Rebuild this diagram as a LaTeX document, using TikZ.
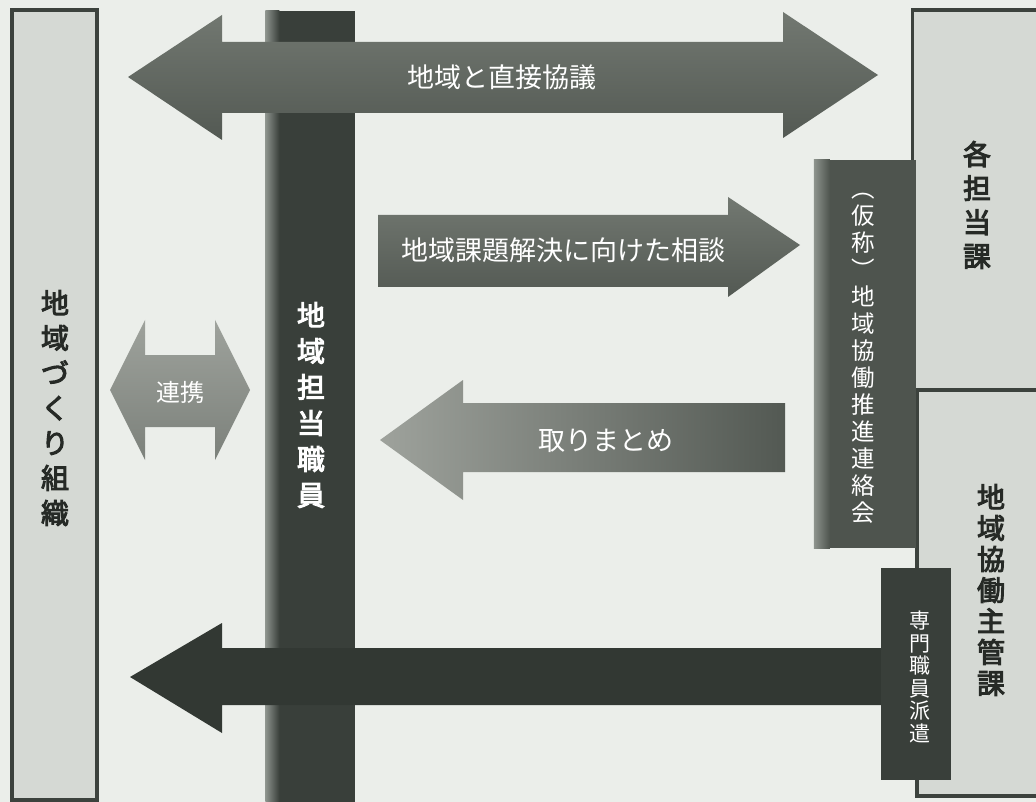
\documentclass[tikz,border=0pt]{standalone}
\usepackage{fontspec}
\newfontfamily\jp{Noto Sans CJK JP}
\newfontfamily\jpb{Noto Sans CJK JP}[FakeBold=3.5]
\definecolor{bg}{HTML}{EBEEEA}
\definecolor{edge}{HTML}{3C423D}
\definecolor{boxfill}{HTML}{D5D9D4}
\definecolor{bar}{HTML}{393F3A}
\definecolor{barlight}{HTML}{8E948E}
\definecolor{darkarrow}{HTML}{323833}
\definecolor{midtop}{HTML}{727871}
\definecolor{midbot}{HTML}{535953}
\definecolor{lighttop}{HTML}{9EA29C}
\definecolor{lightbot}{HTML}{7C817B}
\definecolor{council}{HTML}{4E544E}
\definecolor{ink}{HTML}{262A26}
\begin{document}
\begin{tikzpicture}[x=1pt,y=-1pt,
  boxstyle/.style={draw=edge, line width=3.5pt, fill=boxfill, inner sep=0pt},
  barstyle/.style={fill=bar, inner sep=0pt},
  blabel/.style={align=center, inner sep=0pt, text=ink},
  wlabel/.style={align=center, inner sep=0pt, text=white},
  arrowmid/.style={top color=midtop, bottom color=midbot},
  arrowlight/.style={top color=lighttop, bottom color=lightbot},
  arrowdark/.style={fill=darkarrow}]
\clip (0,0) rectangle (1036,802);
\fill[bg] (0,0) rectangle (1036,802);

% left box
\node[boxstyle, minimum width=85pt, minimum height=790pt] (org) at (54.5,405) {};
\node[blabel, font=\jpb\fontsize{28}{35}\selectfont] (orgl) at (55,408) {地\\域\\づ\\く\\り\\組\\織};

% right boxes
\node[boxstyle, minimum width=135pt, minimum height=380pt] (dept) at (980,200) {};
\node[blabel, font=\jpb\fontsize{28}{34}\selectfont] (deptl) at (977,205) {各\\担\\当\\課};
\node[boxstyle, minimum width=130pt, minimum height=406pt] (main) at (982,593) {};
\node[blabel, font=\jpb\fontsize{28}{31}\selectfont] (mainl) at (991,590) {地\\域\\協\\働\\主\\管\\課};

% central bar
\node[barstyle, minimum width=89pt, minimum height=792pt] (staff) at (310,407) {};
\shade[left color=barlight, right color=bar] (staff.north west) rectangle ([xshift=14pt]staff.south west);
\node[wlabel, font=\jpb\fontsize{28}{36}\selectfont] (staffl) at (311,405) {地\\域\\担\\当\\職\\員};

% council box
\node[fill=council, minimum width=102pt, minimum height=388pt, inner sep=0pt] (council) at (865,354) {};
\shade[left color=barlight, right color=council] (council.north west) rectangle ([xshift=16pt]council.south west);
\node[wlabel, font=\jp\fontsize{23.5}{27}\selectfont] (councill) at (863,358) {︵\\仮\\称\\︶\\地\\域\\協\\働\\推\\進\\連\\絡\\会};

% dispatch box
\node[barstyle, minimum width=70pt, minimum height=212pt] (dispatch) at (916,674) {};
\node[wlabel, font=\jp\fontsize{21}{22.6}\selectfont] (dispatchl) at (920,677) {専\\門\\職\\員\\派\\遣};

% top double arrow
\shade[arrowmid] (128,77) -- (222,15) -- (222,42) -- (783,42) -- (783,12) -- (878,75)
  -- (783,138) -- (783,113) -- (222,113) -- (222,140) -- cycle;
\node[wlabel, font=\jp\fontsize{27}{30}\selectfont] (direct) at (502,77) {地域と直接協議};

% consultation arrow
\shade[arrowmid] (378,215) -- (728,215) -- (728,197) -- (800,245) -- (728,297) -- (728,287) -- (378,287) -- cycle;
\node[wlabel, font=\jp\fontsize{27}{30}\selectfont] (consult) at (563,250) {地域課題解決に向けた相談};

% summary arrow
\shade[left color=lighttop, right color=midbot] (380,440) -- (463,380) -- (463,403) -- (785,403) -- (785,472) -- (463,472) -- (463,500) -- cycle;
\node[wlabel, font=\jp\fontsize{27}{30}\selectfont] (summary) at (606,441) {取りまとめ};

% cooperation arrow
\shade[arrowlight] (110,390) -- (145,320) -- (145,355) -- (215,355) -- (215,320) -- (250,390)
  -- (215,460) -- (215,427) -- (145,427) -- (145,460) -- cycle;
\node[wlabel, font=\jp\fontsize{24}{26}\selectfont] (coop) at (180,392) {連携};

% bottom dispatch arrow
\fill[arrowdark] (130,677) -- (222,623) -- (222,648) -- (dispatch.west |- 0,648) -- (dispatch.west |- 0,705)
  -- (222,705) -- (222,733) -- cycle;
\end{tikzpicture}
\end{document}
